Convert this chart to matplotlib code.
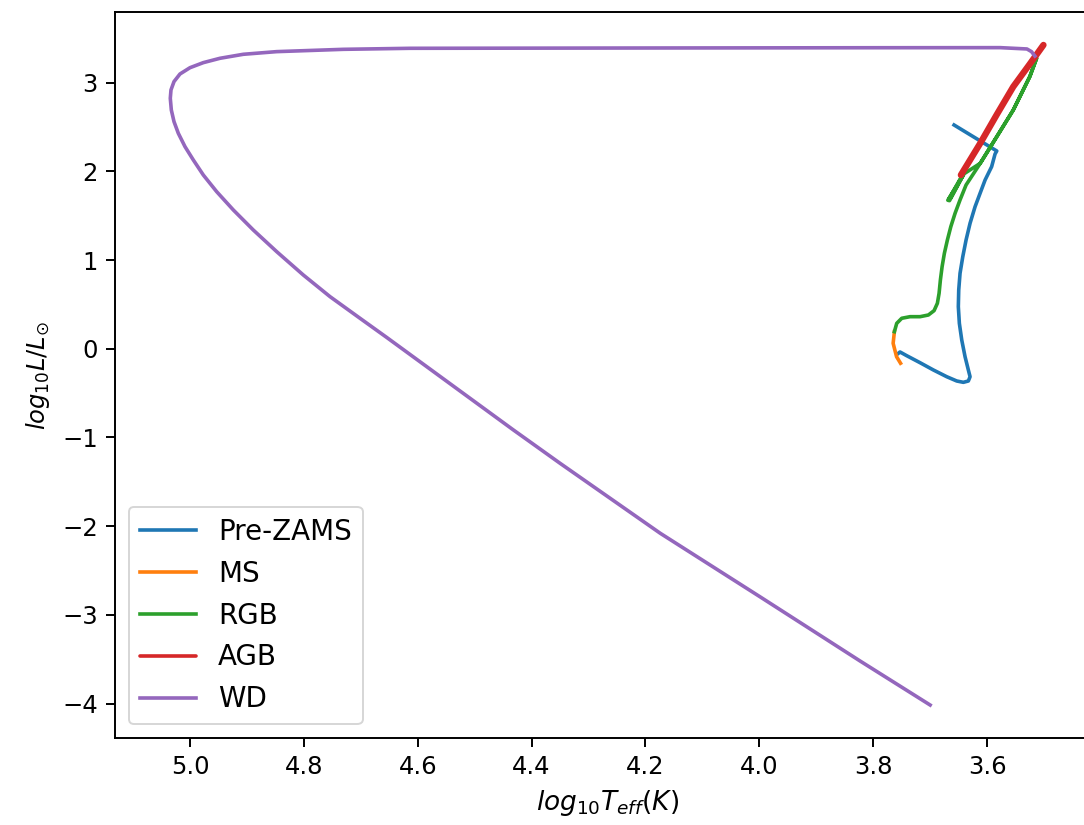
import matplotlib
matplotlib.use('Agg')
import matplotlib.pyplot as plt

# evolutionary track of a 1 Msun star, split by phase (log Teff, log L/Lsun)
pre_zams_logT = [3.658, 3.583, 3.586, 3.592, 3.6035, 3.6123, 3.6211, 3.6299,
                 3.6369, 3.6427, 3.6475, 3.6498, 3.6505, 3.6487, 3.6445,
                 3.6387, 3.6329, 3.6299, 3.6329, 3.6417, 3.6533, 3.6708,
                 3.6943, 3.7177, 3.7411, 3.7529, 3.7558]
pre_zams_logL = [2.523, 2.230, 2.196, 2.053, 1.903, 1.753, 1.602, 1.415,
                 1.227, 1.038, 0.851, 0.663, 0.475, 0.287, 0.099,
                 -0.089, -0.239, -0.315, -0.363, -0.378, -0.363, -0.315,
                 -0.239, -0.157, -0.078, -0.036, -0.051]

ms_logT = [3.752, 3.759, 3.765, 3.7628]
ms_logL = [-0.163, -0.089, 0.062, 0.193]

rgb_logT = [3.7628, 3.7587, 3.7499, 3.7353, 3.7177, 3.7031, 3.6931, 3.6873,
            3.6843, 3.6820, 3.6790, 3.6750, 3.6697, 3.6637, 3.6562, 3.6475,
            3.6369, 3.612, 3.583, 3.554, 3.525, 3.513,
            3.525, 3.554, 3.583, 3.612, 3.640,
            3.669, 3.666, 3.642, 3.645, 3.667, 3.664, 3.644]
rgb_logL = [0.193, 0.287, 0.344, 0.362, 0.362, 0.381, 0.430, 0.513,
            0.626, 0.776, 0.926, 1.077, 1.227, 1.377, 1.528, 1.678,
            1.847, 2.091, 2.391, 2.692, 3.068, 3.275,
            3.068, 2.692, 2.391, 2.091, 1.975,
            1.675, 1.670, 1.955, 1.940, 1.690, 1.700, 1.940]

agb_logT = [3.646, 3.612, 3.583, 3.554, 3.525, 3.501]
agb_logL = [1.959, 2.317, 2.640, 2.955, 3.210, 3.425]

wd_logT = [3.516, 3.522, 3.530, 3.577, 3.800, 4.200, 4.6136, 4.7307, 4.8477,
           4.9064, 4.9473, 4.9766, 5.0000, 5.0176, 5.0281, 5.0334, 5.0346,
           5.0328, 5.0281, 5.0205, 5.0088, 4.9942, 4.9766, 4.9531, 4.9239,
           4.8888, 4.8477, 4.8010, 4.7541, 4.7014, 4.6545, 4.432, 4.350,
           4.174, 3.999, 3.823, 3.700]
wd_logL = [3.300, 3.350, 3.380, 3.395, 3.394, 3.391, 3.3875, 3.376, 3.350,
           3.320, 3.275, 3.226, 3.169, 3.098, 3.012, 2.918, 2.824,
           2.692, 2.561, 2.429, 2.279, 2.129, 1.959, 1.771, 1.565,
           1.339, 1.095, 0.832, 0.588, 0.344, 0.128, -0.915, -1.291,
           -2.080, -2.795, -3.520, -4.016]

phases = ['Pre-ZAMS', 'MS', 'RGB', 'AGB', 'WD']

FS = 17.5
LW = 2.6

fig = plt.figure(figsize=(10.84, 8.25), dpi=100)
ax = fig.add_axes([0.1061, 0.1051, 0.9087, 0.8807])

ax.plot(pre_zams_logT, pre_zams_logL, color='tab:blue', lw=LW, label=phases[0])
ax.plot(ms_logT, ms_logL, color='tab:orange', lw=LW, label=phases[1])
ax.plot(rgb_logT, rgb_logL, color='tab:green', lw=LW, label=phases[2])
ax.plot(agb_logT, agb_logL, color='tab:red', lw=4.6, label=phases[3],
        solid_capstyle='round')
ax.plot(wd_logT, wd_logL, color='tab:purple', lw=LW, label=phases[4])

ax.set_xlim(5.1317, 3.4016)
ax.set_ylim(-4.391, 3.800)
ax.set_xticks([5.0, 4.8, 4.6, 4.4, 4.2, 4.0, 3.8, 3.6])
ax.set_yticks([-4, -3, -2, -1, 0, 1, 2, 3])

ax.set_xlabel(r'$log_{10}T_{eff}(K)$', fontsize=19, labelpad=6)
ax.set_ylabel(r'$log_{10}L/L_{\odot}$', fontsize=FS, labelpad=7)
ax.tick_params(labelsize=FS, length=6.3, width=1.4, pad=6)
for sp in ax.spines.values():
    sp.set_linewidth(1.4)

leg = ax.legend(loc='lower left', fontsize=20, labelspacing=0.5)
leg.get_frame().set_linewidth(1.4)
for h in leg.legend_handles:
    h.set_linewidth(LW)

fig.savefig('out.png', dpi=100)
